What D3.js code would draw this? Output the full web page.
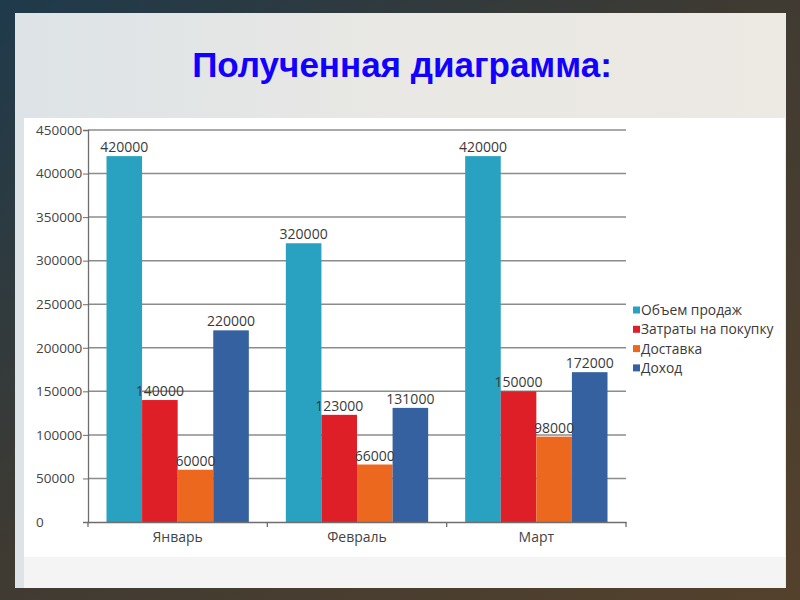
<!DOCTYPE html>
<html><head><meta charset="utf-8">
<script src="https://cdn.jsdelivr.net/npm/d3@7"></script>
<style>body{margin:0;background:#3a3026;}svg{display:block;}</style>
</head><body>
<svg id="c" width="800" height="600"></svg>
<script>
const categories = ["Январь", "Февраль", "Март"];
const seriesNames = ["Объем продаж", "Затраты на покупку", "Доставка", "Доход"];
const salesVolume = [420000, 320000, 420000];
const purchaseCosts = [140000, 123000, 150000];
const delivery = [60000, 66000, 98000];
const income = [220000, 131000, 172000];
const yTicks = [0, 50000, 100000, 150000, 200000, 250000, 300000, 350000, 400000, 450000];
const colors = ["#29a2c1", "#de1f28", "#ec681f", "#3561a0"];

const series = [salesVolume, purchaseCosts, delivery, income];
const svg = d3.select("#c");
const defs = svg.append("defs");
const bg = defs.append("linearGradient").attr("id","bg").attr("x1","0").attr("x2","1").attr("y1","0").attr("y2","1");
bg.append("stop").attr("offset","0").attr("stop-color","#1f3a4c");
bg.append("stop").attr("offset","0.45").attr("stop-color","#3e3a33");
bg.append("stop").attr("offset","1").attr("stop-color","#54412c");
svg.append("rect").attr("width",800).attr("height",600).attr("fill","url(#bg)");
const pg = defs.append("linearGradient").attr("id","pg").attr("x1","0").attr("x2","1").attr("y1","0").attr("y2","0");
pg.append("stop").attr("offset","0").attr("stop-color","#dde3e7");
pg.append("stop").attr("offset","0.5").attr("stop-color","#e9e8e4");
pg.append("stop").attr("offset","1").attr("stop-color","#ede9e3");
svg.append("rect").attr("x",15).attr("y",13).attr("width",771).attr("height",575).attr("fill","url(#pg)");
svg.append("rect").attr("x",24).attr("y",557).attr("width",761).attr("height",31).attr("fill","#f4f4f4");
svg.append("rect").attr("x",24).attr("y",118).attr("width",761).attr("height",439).attr("fill","#ffffff");

svg.append("text").attr("x",402).attr("y",77).attr("text-anchor","middle")
  .attr("font-family","Liberation Sans, Arial, sans-serif").attr("font-weight","bold")
  .attr("font-size",35).attr("fill","#1200ff").text("Полученная диаграмма:");

const x0 = d3.scaleBand().domain(categories).range([88, 626]).paddingInner(0).paddingOuter(0);
const x1 = d3.scaleBand().domain(seriesNames).range([18.5, x0.bandwidth() - 18.5]).padding(0);
const y = d3.scaleLinear().domain([0, 450000]).range([522, 130]);
const font = "Open Sans, sans-serif";
const g = svg.append("g");

// gridlines
g.selectAll(".grid").data(yTicks.slice(1)).join("line")
  .attr("x1",88).attr("x2",626).attr("y1",d=>y(d)).attr("y2",d=>y(d))
  .attr("stroke","#8c8c8c").attr("stroke-width",1.5);

// y axis
const ya = d3.axisLeft(y).tickValues(yTicks).tickSize(5).tickFormat(d3.format("d"));
const yg = g.append("g").attr("transform","translate(88,0)").call(ya);
yg.select(".domain").attr("stroke","#6e6e6e").attr("stroke-width",1.3);
yg.selectAll(".tick line").attr("stroke","#6e6e6e");
yg.selectAll(".tick text").attr("text-anchor","start").attr("x",-52)
  .attr("font-family",font).attr("font-size",13.5).attr("fill","#444");

// bars
categories.forEach((c, ci) => {
  series.forEach((s, si) => {
    g.append("rect").attr("x", x0(c) + x1(seriesNames[si])).attr("width", x1.bandwidth())
      .attr("y", y(s[ci])).attr("height", y(0) - y(s[ci])).attr("fill", colors[si]);
  });
});
categories.forEach((c, ci) => {
  series.forEach((s, si) => {
    g.append("text").attr("x", x0(c) + x1(seriesNames[si]) + x1.bandwidth()/2)
      .attr("y", y(s[ci]) - 4).attr("text-anchor","middle")
      .attr("font-family",font).attr("font-size",14).attr("fill","#3a3a3a").text(d3.format("d")(s[ci]));
  });
});

// x axis
const xa = d3.axisBottom(x0).tickSize(0);
const xg = g.append("g").attr("transform","translate(0,522)").call(xa);
xg.select(".domain").attr("stroke","#6e6e6e").attr("stroke-width",1.3);
xg.selectAll(".tick text").attr("dy",null).attr("y",20)
  .attr("font-family",font).attr("font-size",14).attr("fill","#444");
g.selectAll(".xb").data([0,1,2,3]).join("line")
  .attr("x1",i=>88 + i*x0.bandwidth()).attr("x2",i=>88 + i*x0.bandwidth())
  .attr("y1",522).attr("y2",527).attr("stroke","#6e6e6e").attr("stroke-width",1.3);

// legend
const lg = g.append("g");
seriesNames.forEach((n, i) => {
  const yy = 310 + i*19.3;
  lg.append("rect").attr("x",633).attr("y",yy-3.5).attr("width",7).attr("height",7).attr("fill",colors[i]);
  lg.append("text").attr("x",641).attr("y",yy+5).attr("font-family",font).attr("font-size",13.8)
    .attr("fill","#3a3a3a").text(n);
});
</script>
</body></html>
